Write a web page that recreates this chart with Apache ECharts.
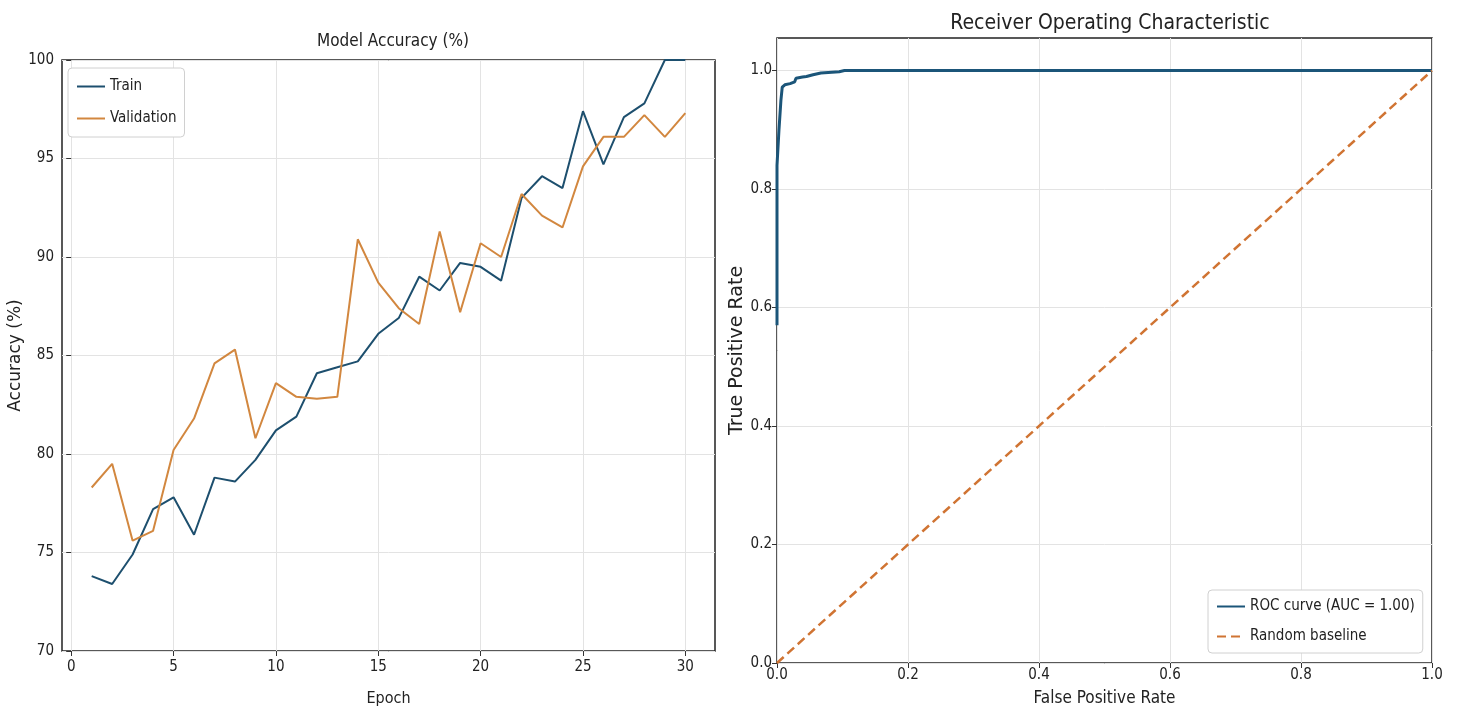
<!DOCTYPE html>
<html>
<head>
<meta charset="utf-8">
<title>Model Accuracy / ROC</title>
<script src="https://cdn.jsdelivr.net/npm/echarts@6/dist/echarts.min.js"></script>
<style>
  html, body { margin: 0; padding: 0; background: #fff; }
  #chart { width: 1458px; height: 715px; }
</style>
</head>
<body>
<div id="chart"></div>
<script>
// accuracy per epoch (%)
const epochs = [1, 2, 3, 4, 5, 6, 7, 8, 9, 10, 11, 12, 13, 14, 15, 16, 17, 18, 19, 20, 21, 22, 23, 24, 25, 26, 27, 28, 29, 30]
const trainAcc = [73.8, 73.4, 74.9, 77.2, 77.8, 75.9, 78.8, 78.6, 79.7, 81.2, 81.9, 84.1, 84.4, 84.7, 86.1, 86.9, 89.0, 88.3, 89.7, 89.5, 88.8, 93.0, 94.1, 93.5, 97.4, 94.7, 97.1, 97.8, 100, 100]
const valAcc = [78.3, 79.5, 75.6, 76.1, 80.2, 81.8, 84.6, 85.3, 80.8, 83.6, 82.9, 82.8, 82.9, 90.9, 88.7, 87.4, 86.6, 91.3, 87.2, 90.7, 90.0, 93.2, 92.1, 91.5, 94.6, 96.1, 96.1, 97.2, 96.1, 97.3]

// roc curve points
const fpr = [0, 0, 0.003, 0.003, 0.006, 0.006, 0.008, 0.008, 0.012, 0.02, 0.027, 0.029, 0.039, 0.045, 0.055, 0.067, 0.095, 0.103, 1.0]
const tpr = [0.57, 0.84, 0.84, 0.90, 0.90, 0.95, 0.95, 0.972, 0.976, 0.978, 0.981, 0.987, 0.989, 0.99, 0.993, 0.996, 0.998, 1.0, 1.0]
const baseX = [0, 1]
const baseY = [0, 1]

// tick labels
const epochTicks = [0, 5, 10, 15, 20, 25, 30]
const rateTicks = [0, 0.2, 0.4, 0.6, 0.8, 1.0]

const narrow = '"DejaVu Sans Condensed", "Liberation Sans Narrow", "DejaVu Sans", sans-serif'
const wide = '"DejaVu Sans", sans-serif'
const txt = '#222'
const gridLine = { show: true, lineStyle: { color: '#e3e3e3', width: 1 } }
const tick = { show: true, inside: false, length: 5, lineStyle: { color: '#333', width: 1 } }

const chart = echarts.init(document.getElementById('chart'))

chart.setOption({
  animation: false,
  backgroundColor: '#fff',
  title: [
    {
      text: 'Model Accuracy (%)', left: 388, top: 28, textAlign: 'center',
      textStyle: { fontFamily: narrow, fontSize: 17, fontWeight: 'normal', color: txt }
    },
    {
      text: 'Receiver Operating Characteristic', left: 1105, top: 8, textAlign: 'center',
      textStyle: { fontFamily: narrow, fontSize: 21, fontWeight: 'normal', color: txt }
    }
  ],
  legend: [
    {
      data: ['Train', 'Validation'], orient: 'vertical',
      left: 68, top: 68, padding: [11, 8, 11, 8], itemGap: 17,
      itemWidth: 28, itemHeight: 12,
      itemStyle: { opacity: 0 },
      backgroundColor: '#fff', borderColor: '#d0d0d0', borderWidth: 1, borderRadius: 4,
      textStyle: { fontFamily: narrow, fontSize: 15, color: txt }
    },
    {
      data: ['ROC curve (AUC = 1.00)', 'Random baseline'], orient: 'vertical',
      left: 1208, top: 590, padding: [9, 8, 9, 8], itemGap: 15,
      itemWidth: 28, itemHeight: 12,
      itemStyle: { opacity: 0 },
      backgroundColor: '#fff', borderColor: '#d0d0d0', borderWidth: 1, borderRadius: 4,
      textStyle: { fontFamily: narrow, fontSize: 15, color: txt }
    }
  ],
  grid: [
    { left: 62, top: 60, width: 653, height: 591, show: true, borderColor: '#222', borderWidth: 1.5, backgroundColor: 'transparent' },
    { left: 777, top: 38, width: 655, height: 625, show: true, borderColor: '#222', borderWidth: 1.5, backgroundColor: 'transparent' }
  ],
  xAxis: [
    {
      type: 'value', gridIndex: 0, min: -0.45, max: 31.45,
      name: 'Epoch', nameLocation: 'middle', nameGap: 40,
      nameTextStyle: { fontFamily: narrow, fontSize: 16, color: txt },
      axisLine: { show: false },
      axisTick: Object.assign({ customValues: epochTicks }, tick),
      axisLabel: { customValues: epochTicks, fontFamily: narrow, fontSize: 15, color: txt, margin: 9 },
      splitLine: gridLine
    },
    {
      type: 'value', gridIndex: 1, min: 0, max: 1,
      name: 'False Positive Rate', nameLocation: 'middle', nameGap: 27,
      nameTextStyle: { fontFamily: narrow, fontSize: 17, color: txt },
      axisLine: { show: false },
      axisTick: Object.assign({ customValues: rateTicks }, tick),
      axisLabel: { customValues: rateTicks, fontFamily: narrow, fontSize: 15, color: txt, margin: 5,
        formatter: v => v.toFixed(1) },
      splitLine: gridLine
    }
  ],
  yAxis: [
    {
      type: 'value', gridIndex: 0, min: 70, max: 100, interval: 5,
      name: 'Accuracy (%)', nameLocation: 'middle', nameGap: 36,
      nameTextStyle: { fontFamily: wide, fontSize: 17, color: txt },
      axisLine: { show: false },
      axisTick: tick,
      axisLabel: { fontFamily: narrow, fontSize: 15, color: txt, margin: 8 },
      splitLine: gridLine
    },
    {
      type: 'value', gridIndex: 1, min: 0, max: 1.055,
      name: 'True Positive Rate', nameLocation: 'middle', nameGap: 26,
      nameTextStyle: { fontFamily: wide, fontSize: 19, color: txt },
      axisLine: { show: false },
      axisTick: Object.assign({ customValues: rateTicks }, tick),
      axisLabel: { customValues: rateTicks, fontFamily: narrow, fontSize: 15, color: txt, margin: 5,
        formatter: v => v.toFixed(1) },
      splitLine: gridLine
    }
  ],
  series: [
    {
      name: 'Train', type: 'line', xAxisIndex: 0, yAxisIndex: 0,
      data: epochs.map((e, i) => [e, trainAcc[i]]),
      symbol: 'none', color: '#1d4f6e',
      lineStyle: { width: 2, color: '#1d4f6e' }
    },
    {
      name: 'Validation', type: 'line', xAxisIndex: 0, yAxisIndex: 0,
      data: epochs.map((e, i) => [e, valAcc[i]]),
      symbol: 'none', color: '#d2873f',
      lineStyle: { width: 2, color: '#d2873f' }
    },
    {
      name: 'ROC curve (AUC = 1.00)', type: 'line', xAxisIndex: 1, yAxisIndex: 1,
      data: fpr.map((x, i) => [x, tpr[i]]),
      symbol: 'none', color: '#1b5579', z: 3,
      lineStyle: { width: 3, color: '#1b5579' }
    },
    {
      name: 'Random baseline', type: 'line', xAxisIndex: 1, yAxisIndex: 1,
      data: baseX.map((x, i) => [x, baseY[i]]),
      symbol: 'none', color: '#d07433',
      lineStyle: { width: 2.5, color: '#d07433', type: [9, 5] }
    }
  ]
})
</script>
</body>
</html>
